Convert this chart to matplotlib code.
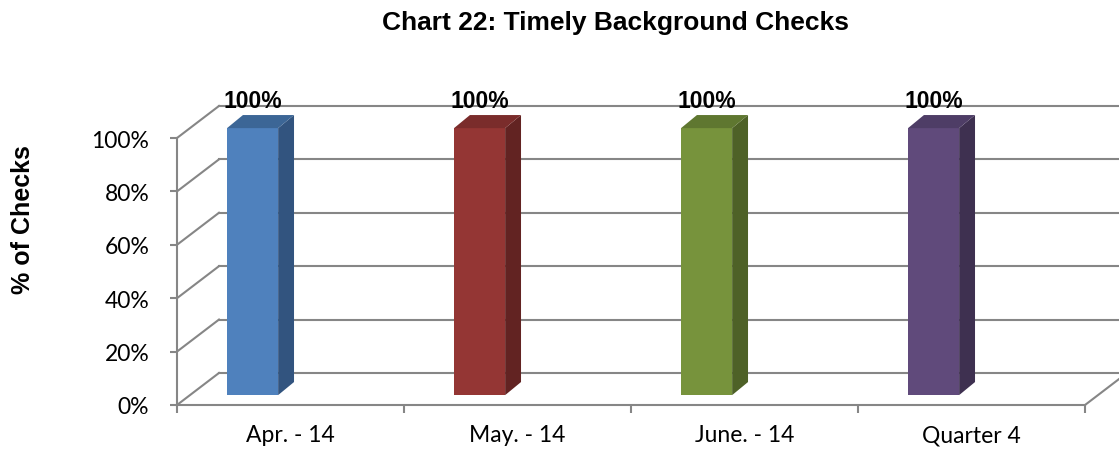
import matplotlib
matplotlib.use("Agg")
import matplotlib.pyplot as plt
from matplotlib.patches import Polygon

# data
categories = ["Apr. - 14", "May. - 14", "June. - 14", "Quarter 4"]
values = [100, 100, 100, 100]
labels = ["100%", "100%", "100%", "100%"]
yticks = [0, 20, 40, 60, 80, 100]
front_colors = ["#4F81BD", "#943634", "#77933C", "#604A7B"]
side_colors = ["#32547F", "#622322", "#4E6127", "#3E3050"]
top_colors = ["#3C6696", "#7A2C2B", "#5F7730", "#4E3D66"]

W, H = 1119, 452
fig = plt.figure(figsize=(W / 100, H / 100), dpi=100)
ax = fig.add_axes([177 / W, 46 / H, 908 / W, 267 / H])
ax.set_xlim(-0.5, len(categories) - 0.5)
ax.set_ylim(0, 100)

grid_c = "#868686"
DX, DY = 0.185, 12.0          # depth of the back wall (data units)
BDX, BDY = 0.07, 4.9          # depth of each bar
BASE = 3.7
BW = 0.225
SHIFT = -0.167

x_lo, x_hi = -0.5, len(categories) - 0.5
for v in yticks:
    ax.plot([x_lo, x_lo + DX], [v, v + DY], color=grid_c, lw=1.5, clip_on=False, zorder=1)
    ax.plot([x_lo + DX, x_hi + DX + 0.3], [v + DY, v + DY], color=grid_c, lw=1.5, clip_on=False, zorder=1)
ax.plot([x_hi, x_hi + DX], [0, DY], color=grid_c, lw=1.5, clip_on=False, zorder=1)

for i, (v, lab) in enumerate(zip(values, labels)):
    x0 = i + SHIFT - BW / 2
    x1 = x0 + BW
    top = BASE + v
    ax.bar(i + SHIFT, v, width=BW, bottom=BASE, color=front_colors[i], zorder=3, clip_on=False)
    ax.add_patch(Polygon([(x1, BASE), (x1 + BDX, BASE + BDY), (x1 + BDX, top + BDY), (x1, top)],
                         closed=True, facecolor=side_colors[i], edgecolor="none", zorder=3, clip_on=False))
    ax.add_patch(Polygon([(x0, top), (x0 + BDX, top + BDY), (x1 + BDX, top + BDY), (x1, top)],
                         closed=True, facecolor=top_colors[i], edgecolor="none", zorder=3, clip_on=False))
    ax.text(i + SHIFT, top + 10.4, lab, ha="center", va="center", fontsize=16.5,
            fontweight="bold", family="Liberation Sans", zorder=4, clip_on=False)

for s in ["top", "right"]:
    ax.spines[s].set_visible(False)
for s in ["left", "bottom"]:
    ax.spines[s].set_color(grid_c)
    ax.spines[s].set_linewidth(1.5)

ax.set_yticks(yticks)
ax.set_yticklabels([f"{t}%" for t in yticks], family="Lato", fontsize=16.5)
ax.tick_params(axis="y", length=5, width=1.5, color=grid_c, pad=15)

ax.set_xticks([i - 0.5 for i in range(len(categories) + 1)])
ax.set_xticklabels([])
ax.set_xticks(range(len(categories)), minor=True)
ax.set_xticklabels(categories, minor=True, family="Lato", fontsize=16.5)
ax.tick_params(axis="x", which="major", length=6, width=1.5, color=grid_c)
ax.tick_params(axis="x", which="minor", length=0, pad=14)

fig.text(616 / W, 1 - 23 / H, "Chart 22: Timely Background Checks", ha="center", va="center",
         fontsize=19, fontweight="bold", family="Liberation Sans")
fig.text(23 / W, 1 - 220 / H, "% of Checks", ha="center", va="center", rotation=90,
         fontsize=18, fontweight="bold", family="Liberation Sans")

fig.savefig("out.png", dpi=100)
